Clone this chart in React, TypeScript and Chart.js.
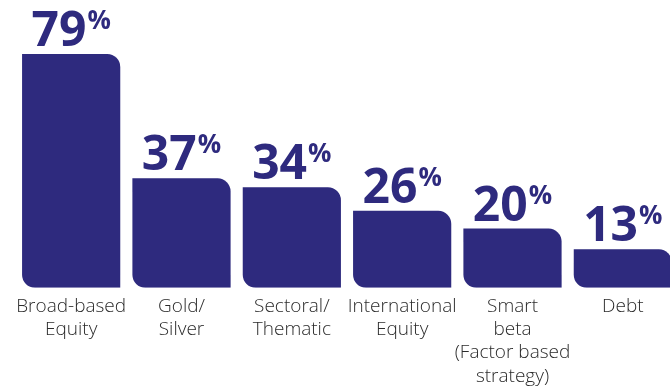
import React, { useEffect, useRef } from "react";
import { Chart, registerables } from "chart.js";

Chart.register(...registerables);

const categories: string[][] = [
  ["Broad-based", "Equity"],
  ["Gold/", "Silver"],
  ["Sectoral/", "Thematic"],
  ["International", "Equity"],
  ["Smart", "beta", "(Factor based", "strategy)"],
  ["Debt"],
];
const values: number[] = [79, 37, 34, 26, 20, 13];
const valueSuffix = "%";

const BAR_COLOR = "#2e2a7e";
const LABEL_COLOR = "#2b2b2b";

const valueLabelPlugin = {
  id: "valueLabels",
  afterDatasetsDraw(chart: any) {
    const ctx = chart.ctx as CanvasRenderingContext2D;
    const meta = chart.getDatasetMeta(0);
    const data = chart.data.datasets[0].data as number[];
    ctx.save();
    ctx.fillStyle = BAR_COLOR;
    ctx.textBaseline = "alphabetic";
    ctx.textAlign = "left";
    meta.data.forEach((el: any, i: number) => {
      const num = String(data[i]);
      const bigFont = "bold 48px 'Open Sans', sans-serif";
      const smallFont = "bold 26px 'Open Sans', sans-serif";
      ctx.font = bigFont;
      const mNum = ctx.measureText(num);
      const numCap = ctx.measureText("7").actualBoundingBoxAscent;
      ctx.font = smallFont;
      const mPct = ctx.measureText(valueSuffix);
      const pctCap = mPct.actualBoundingBoxAscent;
      const total = mNum.width + 1 + mPct.width;
      const x0 = el.x - total / 2;
      const baseline = el.y - 8;
      ctx.font = bigFont;
      ctx.fillText(num, x0, baseline);
      ctx.font = smallFont;
      ctx.fillText(valueSuffix, x0 + mNum.width + 1, baseline - (numCap - pctCap) - 1);
    });
    ctx.restore();
  },
};

export default function App() {
  const canvasRef = useRef<HTMLCanvasElement | null>(null);

  useEffect(() => {
    if (!canvasRef.current) return;
    const chart = new Chart(canvasRef.current, {
      type: "bar",
      data: {
        labels: categories,
        datasets: [
          {
            data: values,
            backgroundColor: BAR_COLOR,
            borderSkipped: false,
            borderRadius: { topLeft: 0, topRight: 13, bottomLeft: 13, bottomRight: 0 },
            barPercentage: 0.89,
            categoryPercentage: 1,
          },
        ],
      },
      options: {
        animation: false,
        responsive: false,
        layout: { padding: { left: 16, right: 3, top: 21.5, bottom: 0 } },
        plugins: {
          legend: { display: false },
          tooltip: { enabled: false },
        },
        scales: {
          x: {
            grid: { display: false, drawTicks: false },
            border: { display: false },
            ticks: {
              color: LABEL_COLOR,
              padding: 7,
              maxRotation: 0,
              autoSkip: false,
              font: { family: "'Open Sans', sans-serif", size: 19, weight: 300, lineHeight: "23.3px" },
            },
          },
          y: {
            display: false,
            min: 0,
            max: 90,
          },
        },
      },
      plugins: [valueLabelPlugin],
    });
    return () => chart.destroy();
  }, []);

  return (
    <div
      style={{
        position: "fixed",
        left: 0,
        top: 0,
        width: 670,
        height: 387,
        overflow: "hidden",
        background: "#ffffff",
      }}
    >
      <canvas ref={canvasRef} width={681} height={395} style={{ display: "block" }} />
    </div>
  );
}
